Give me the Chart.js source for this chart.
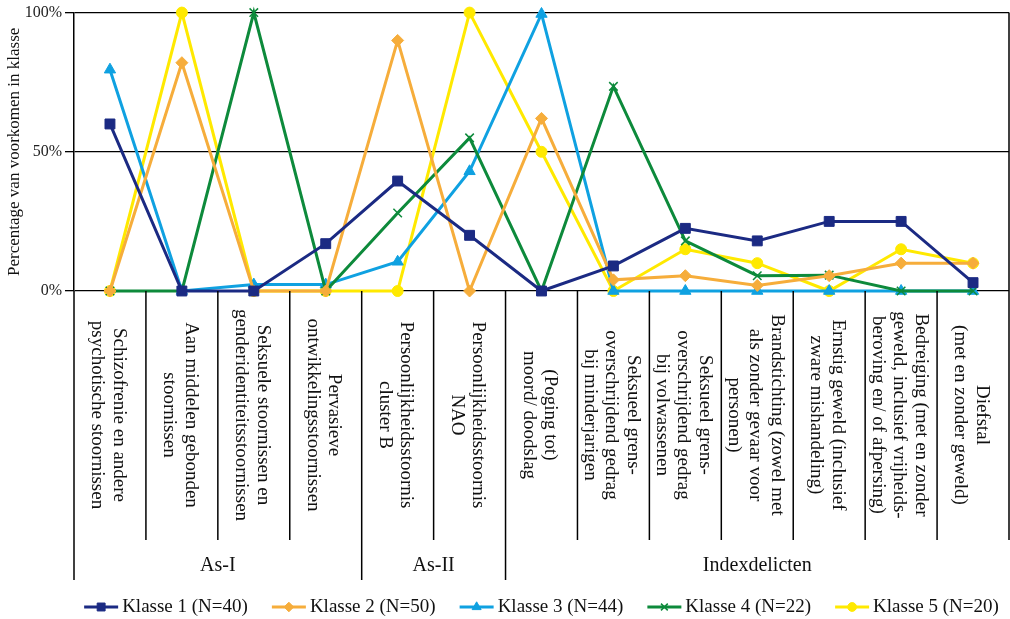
<!DOCTYPE html>
<html>
<head>
<meta charset="utf-8">
<script src="https://cdn.jsdelivr.net/npm/chart.js@4.4.1/dist/chart.umd.min.js"></script>
<style>
  html, body { margin: 0; padding: 0; background: #fff; overflow: hidden; }
  #wrap { width: 1010px; height: 619px; position: relative; }
  #chart { display: block; }
</style>
</head>
<body>
<div id="wrap"><canvas id="chart"></canvas></div>
<script>
// categorieen (regels van het gedraaide label)
const categories = [
  ['Schizofrenie en andere', 'psychotische stoornissen'],
  ['Aan middelen gebonden', 'stoornissen'],
  ['Seksuele stoornissen en', 'genderidentiteitsstoornissen'],
  ['Pervasieve', 'ontwikkelingsstoornissen'],
  ['Persoonlijkheidsstoornis', 'cluster B'],
  ['Persoonlijkheidsstoornis', 'NAO'],
  ['(Poging tot)', 'moord/ doodslag'],
  ['Seksueel grens-', 'overschrijdend gedrag', 'bij minderjarigen'],
  ['Seksueel grens-', 'overschrijdend gedrag', 'bij volwassenen'],
  ['Brandstichting (zowel met', 'als zonder gevaar voor', 'personen)'],
  ['Ernstig geweld (inclusief', 'zware mishandeling)'],
  ['Bedreiging (met en zonder', 'geweld, inclusief vrijheids-', 'beroving en/ of afpersing)'],
  ['Diefstal', '(met en zonder geweld)']
];
const groupLabels = ['As-I', 'As-II', 'Indexdelicten'];
const groupSizes = [4, 2, 7];

const seriesNames = ['Klasse 1 (N=40)', 'Klasse 2 (N=50)', 'Klasse 3 (N=44)', 'Klasse 4 (N=22)', 'Klasse 5 (N=20)'];
const klasse1 = [60, 0, 0, 17, 39.5, 20, 0, 9, 22.5, 18, 25, 25, 3];
const klasse2 = [0, 82, 0, 0, 90, 0, 62, 4, 5.5, 2, 5.5, 10, 10];
const klasse3 = [79.5, 0, 2.3, 2.3, 10.5, 43, 99.5, 0, 0, 0, 0, 0, 0];
const klasse4 = [0, 0, 100, 0, 28, 55, 0, 73.5, 18, 5.5, 5.7, 0, 0];
const klasse5 = [0, 100, 0, 0, 0, 100, 50, 0, 15, 10, 0, 15, 10];

const yTicks = [0, 50, 100];

const SERIF = '"Liberation Serif", "Times New Roman", serif';

function serie(label, data, color, style, radius, order) {
  return {
    label: label, data: data, order: order,
    borderColor: color, backgroundColor: color,
    borderWidth: 3, tension: 0, clip: false,
    pointStyle: style, pointRadius: radius, pointHoverRadius: radius,
    pointBackgroundColor: color, pointBorderColor: color,
    pointBorderWidth: style === 'crossRot' ? 1.5 : 1
  };
}

// tabel onder de grafiek + legenda
const tablePlugin = {
  id: 'tablePlugin',
  afterDraw(chart) {
    const ctx = chart.ctx;
    const area = chart.chartArea;
    const xs = chart.scales.x;
    const colW = xs.getPixelForValue(1) - xs.getPixelForValue(0);
    const edge = i => xs.getPixelForValue(i) - colW / 2;
    const labelBottom = area.bottom + 249;
    const groupBottom = area.bottom + 289;

    ctx.save();
    ctx.strokeStyle = '#000';
    ctx.lineWidth = 1.5;
    // rechterrand
    ctx.beginPath();
    ctx.moveTo(edge(categories.length), area.top);
    ctx.lineTo(edge(categories.length), labelBottom);
    ctx.stroke();

    const groupEdges = [0];
    groupSizes.forEach(s => groupEdges.push(groupEdges[groupEdges.length - 1] + s));
    for (let i = 0; i < categories.length; i++) {
      const isGroup = groupEdges.includes(i);
      ctx.beginPath();
      ctx.moveTo(edge(i), area.bottom);
      ctx.lineTo(edge(i), isGroup ? groupBottom : labelBottom);
      ctx.stroke();
    }

    // gedraaide categorie-labels
    ctx.fillStyle = '#111';
    ctx.font = '19px ' + SERIF;
    ctx.textAlign = 'center';
    ctx.textBaseline = 'middle';
    const lh = 21.5;
    const cy = area.bottom + 124;
    categories.forEach((lines, i) => {
      ctx.save();
      ctx.translate(xs.getPixelForValue(i) - 2, cy);
      ctx.rotate(Math.PI / 2);
      lines.forEach((t, j) => {
        ctx.fillText(t, 0, (j - (lines.length - 1) / 2) * lh);
      });
      ctx.restore();
    });

    // groepslabels
    ctx.font = '20px ' + SERIF;
    groupLabels.forEach((g, k) => {
      const mid = (edge(groupEdges[k]) + edge(groupEdges[k + 1])) / 2;
      ctx.fillText(g, mid, area.bottom + 275);
    });

    // legenda
    ctx.font = '19px ' + SERIF;
    const ly = area.bottom + 316;
    const lineLen = 34, gap = 4, spacing = 24;
    const items = chart.data.datasets.map(ds => ({ ds: ds, w: ctx.measureText(ds.label).width }));
    let total = spacing * (items.length - 1);
    items.forEach(it => { total += lineLen + gap + it.w; });
    let lx = (area.left + area.right) / 2 - total / 2;
    items.forEach(it => {
      const ds = it.ds;
      ctx.strokeStyle = ds.borderColor;
      ctx.lineWidth = 3;
      ctx.beginPath();
      ctx.moveTo(lx, ly);
      ctx.lineTo(lx + lineLen, ly);
      ctx.stroke();
      ctx.fillStyle = ds.borderColor;
      ctx.lineWidth = ds.pointBorderWidth;
      Chart.helpers.drawPoint(ctx, { pointStyle: ds.pointStyle, radius: ds.pointRadius * 0.8, rotation: 0, borderWidth: ds.pointBorderWidth }, lx + lineLen / 2, ly);
      ctx.fillStyle = '#111';
      ctx.textAlign = 'left';
      ctx.fillText(ds.label, lx + lineLen + gap, ly);
      lx += lineLen + gap + it.w + spacing;
    });
    ctx.restore();
  }
};

new Chart(document.getElementById('chart'), {
  type: 'line',
  data: {
    labels: categories.map(c => c.join(' ')),
    datasets: [
      serie(seriesNames[0], klasse1, '#1b2a83', 'rect', 7, 1),
      serie(seriesNames[1], klasse2, '#f6ad3b', 'rectRot', 6, 2),
      serie(seriesNames[2], klasse3, '#0fa1e1', 'triangle', 6.5, 4),
      serie(seriesNames[3], klasse4, '#0d8a3b', 'crossRot', 6, 3),
      serie(seriesNames[4], klasse5, '#ffe900', 'circle', 5.5, 5)
    ]
  },
  options: {
    responsive: true,
    maintainAspectRatio: false,
    animation: false,
    layout: { autoPadding: false, padding: { top: 12, right: 1, bottom: 328, left: 0 } },
    plugins: { legend: { display: false }, tooltip: { enabled: false } },
    scales: {
      x: { type: 'category', display: false, offset: true },
      y: {
        min: 0, max: 100,
        afterFit(scale) { scale.width = 74; },
        afterBuildTicks(scale) { scale.ticks = yTicks.map(v => ({ value: v })); },
        ticks: {
          padding: 3,
          color: '#222',
          font: { family: SERIF, size: 16 },
          callback: v => v + '%'
        },
        grid: { color: '#000', lineWidth: 1.3, tickLength: 9 },
        border: { display: true, color: '#000', width: 1.5 },
        title: {
          display: true,
          text: 'Percentage van voorkomen in klasse',
          color: '#111',
          font: { family: SERIF, size: 17 },
          padding: { top: 4, bottom: 0 }
        }
      }
    }
  },
  plugins: [tablePlugin]
});
</script>
</body>
</html>
